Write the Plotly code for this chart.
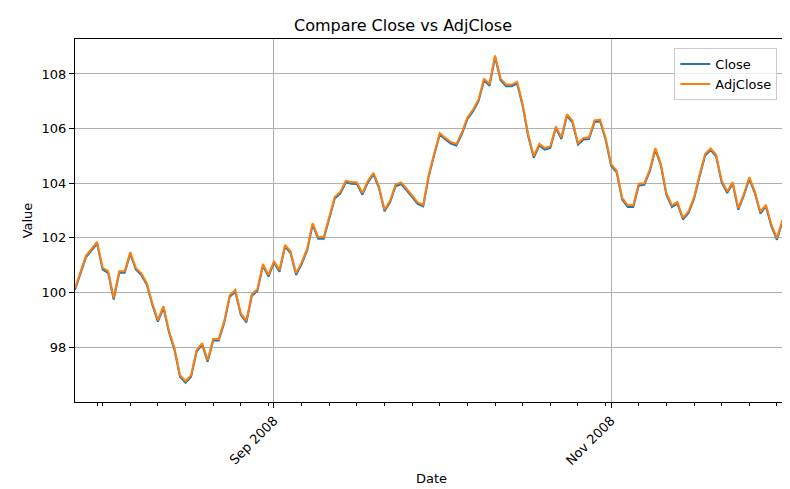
import datetime as dt
import plotly.graph_objects as go

# daily dates, 2008-07-27 .. 2008-12-03
start = dt.date(2008, 7, 27)
dates = [start + dt.timedelta(days=i) for i in range(130)]

adj_close = [
    100.16, 100.80, 101.35, 101.60, 101.85, 100.90, 100.78, 99.80, 100.78, 100.78,
    101.48, 100.90, 100.70, 100.34, 99.60, 98.99, 99.50, 98.60, 97.96, 96.97,
    96.75, 96.97, 97.89, 98.15, 97.52, 98.30, 98.30, 98.95, 99.90, 100.09,
    99.24, 98.96, 99.94, 100.12, 101.04, 100.64, 101.15, 100.82, 101.74, 101.50,
    100.70, 101.10, 101.60, 102.54, 102.03, 102.03, 102.80, 103.50, 103.68, 104.09,
    104.04, 104.03, 103.64, 104.09, 104.38, 103.88, 103.03, 103.36, 103.95, 104.03,
    103.80, 103.56, 103.30, 103.21, 104.31, 105.10, 105.84, 105.66, 105.51, 105.44,
    105.86, 106.41, 106.69, 107.06, 107.83, 107.63, 108.68, 107.83, 107.61, 107.61,
    107.71, 106.88, 105.78, 104.99, 105.44, 105.29, 105.35, 106.08, 105.68, 106.53,
    106.29, 105.47, 105.66, 105.68, 106.30, 106.33, 105.66, 104.70, 104.46, 103.46,
    103.19, 103.19, 103.98, 104.00, 104.50, 105.29, 104.70, 103.64, 103.19, 103.31,
    102.73, 102.97, 103.48, 104.31, 105.07, 105.27, 105.04, 104.09, 103.70, 104.04,
    103.09, 103.60, 104.22, 103.70, 102.95, 103.21, 102.48, 101.99, 102.66, 101.75,
]

close = [
    100.10, 100.74, 101.29, 101.54, 101.79, 100.84, 100.72, 99.74, 100.72, 100.72,
    101.42, 100.84, 100.64, 100.28, 99.54, 98.93, 99.44, 98.54, 97.90, 96.91,
    96.69, 96.91, 97.83, 98.09, 97.46, 98.24, 98.24, 98.89, 99.84, 100.03,
    99.18, 98.90, 99.88, 100.06, 100.98, 100.58, 101.09, 100.76, 101.68, 101.44,
    100.64, 101.04, 101.54, 102.48, 101.97, 101.97, 102.74, 103.44, 103.62, 104.03,
    103.98, 103.97, 103.58, 104.03, 104.32, 103.82, 102.97, 103.30, 103.89, 103.97,
    103.74, 103.50, 103.24, 103.15, 104.25, 105.04, 105.78, 105.60, 105.45, 105.38,
    105.80, 106.35, 106.63, 107.00, 107.77, 107.57, 108.62, 107.77, 107.55, 107.55,
    107.65, 106.82, 105.72, 104.93, 105.38, 105.23, 105.29, 106.02, 105.62, 106.47,
    106.23, 105.41, 105.60, 105.62, 106.24, 106.27, 105.60, 104.64, 104.40, 103.40,
    103.13, 103.13, 103.92, 103.94, 104.44, 105.23, 104.64, 103.58, 103.13, 103.25,
    102.67, 102.91, 103.42, 104.25, 105.01, 105.21, 104.98, 104.03, 103.64, 103.98,
    103.03, 103.54, 104.16, 103.64, 102.89, 103.15, 102.42, 101.93, 102.60, 101.69,
]

x_ticks = [dt.date(2008, 9, 1), dt.date(2008, 11, 1)]
x_tick_labels = ["Sep 2008", "Nov 2008"]
y_ticks = [98, 100, 102, 104, 106, 108]

# minor ticks every 5 days of the month, like matplotlib's DayLocator
minor_ticks = [d for d in dates if d.day in (1, 6, 11, 16, 21, 26, 31)]

fig = go.Figure()
fig.add_trace(go.Scatter(x=dates, y=close, mode="lines", name="Close",
                         line=dict(color="#1f77b4", width=2)))
fig.add_trace(go.Scatter(x=dates, y=adj_close, mode="lines", name="AdjClose",
                         line=dict(color="#ff7f0e", width=2)))

axis_style = dict(showline=True, linecolor="black", linewidth=1, mirror=True,
                  ticks="outside", ticklen=5, tickcolor="black", automargin=False,
                  showgrid=True, gridcolor="#b0b0b0", gridwidth=1, zeroline=False,
                  tickfont=dict(size=13, color="black"))

fig.update_layout(
    width=790, height=489,
    margin=dict(l=67, r=10, t=31, b=95),
    paper_bgcolor="white", plot_bgcolor="white",
    font=dict(family="DejaVu Sans", size=13, color="black"),
    title=dict(text="Compare Close vs AdjClose", x=0.5, xanchor="center",
               y=0.965, yanchor="middle", font=dict(size=16)),
    legend=dict(x=0.985, y=0.975, xanchor="right", yanchor="top",
                bordercolor="#cccccc", borderwidth=1, bgcolor="rgba(255,255,255,0.8)",
                font=dict(size=13)),
    xaxis=dict(axis_style, title=dict(text="Date", standoff=6, font=dict(size=13)),
               type="date", range=[dates[0], dates[-1]],
               tickmode="array", tickvals=x_ticks, ticktext=x_tick_labels, tickangle=-45,
               minor=dict(tickmode="array", tickvals=minor_ticks, ticks="outside",
                          ticklen=3, tickcolor="black", showgrid=False)),
    yaxis=dict(axis_style, title=dict(text="Value", standoff=6, font=dict(size=13)),
               range=[95.99, 109.28], tickmode="array", tickvals=y_ticks),
)

fig.write_html("out.html")
